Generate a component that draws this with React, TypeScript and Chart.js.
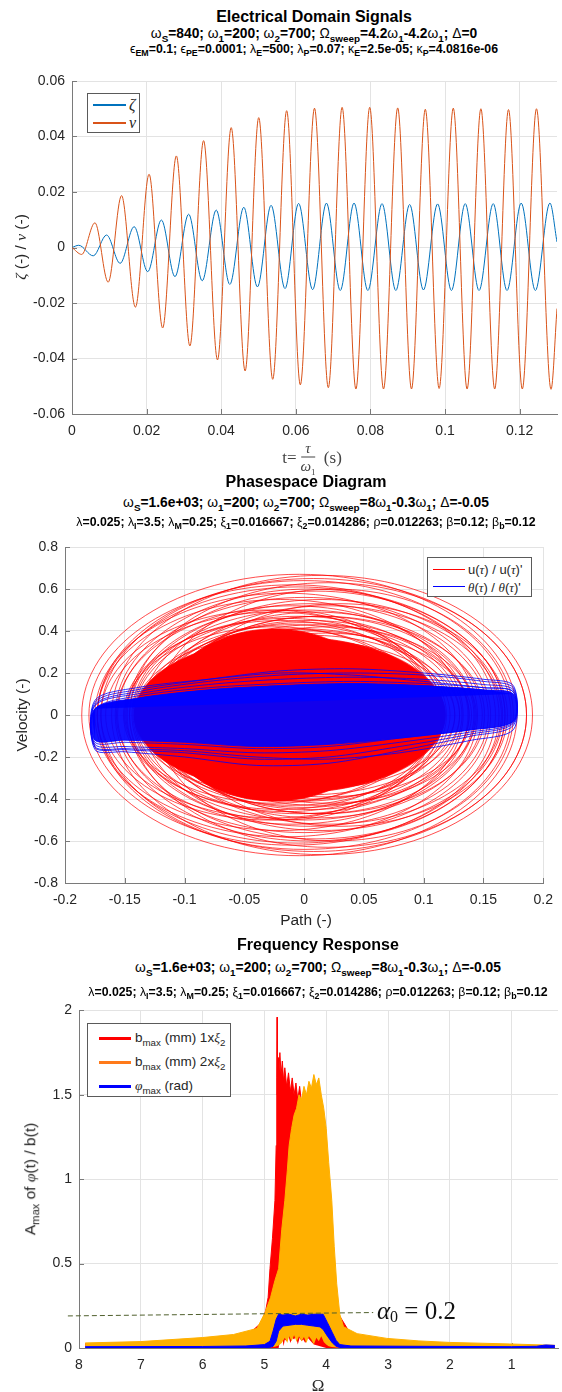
import React, { useEffect, useRef } from "react";
import { Chart, registerables } from "chart.js";

Chart.register(...registerables);

const SANS = '"Liberation Sans", Arial, Helvetica, sans-serif';
const SERIF = '"Liberation Serif", "Times New Roman", serif';
const TXT = "#262626";
const GRID = "#e3e3e3";
const AXIS = "#7a7a7a";

// ---------------- Plot 1: Electrical Domain Signals ----------------
const NU_T = [0, 0.0026, 0.00615, 0.0097, 0.01328, 0.017, 0.02066, 0.0243, 0.02797, 0.0316, 0.03527, 0.039, 0.04267, 0.0464, 0.05005, 0.0538, 0.05754, 0.0612, 0.065, 0.0687, 0.0724, 0.0761, 0.0798, 0.0835, 0.0873, 0.091, 0.0947, 0.0984, 0.1022, 0.1059, 0.1096, 0.1133, 0.117, 0.1207, 0.1245, 0.1284, 0.13];
const NU_V = [0, -0.0025, 0.0089, -0.0125, 0.0187, -0.0215, 0.0264, -0.029, 0.033, -0.0355, 0.0385, -0.0405, 0.0432, -0.0445, 0.0468, -0.0475, 0.0493, -0.0495, 0.0502, -0.0505, 0.0505, -0.051, 0.0505, -0.051, 0.0503, -0.051, 0.0498, -0.0508, 0.0502, -0.051, 0.05, -0.051, 0.0497, -0.051, 0.05, -0.0511, -0.022];
const ZETA_T = [0, 0.0018, 0.0057, 0.00927, 0.0129, 0.01666, 0.0203, 0.02396, 0.0276, 0.03127, 0.0349, 0.03866, 0.0423, 0.04605, 0.0497, 0.05336, 0.0571, 0.06074, 0.0645, 0.0682, 0.0719, 0.0756, 0.0793, 0.0831, 0.0868, 0.0905, 0.0942, 0.098, 0.1017, 0.1054, 0.1091, 0.1129, 0.1166, 0.1204, 0.1242, 0.1281, 0.13];
const ZETA_V = [0, 0.0008, -0.003, 0.0045, -0.0057, 0.0075, -0.0087, 0.0099, -0.0105, 0.012, -0.012, 0.0135, -0.0133, 0.0145, -0.0142, 0.0152, -0.0148, 0.0159, -0.0152, 0.016, -0.0155, 0.016, -0.0155, 0.0158, -0.0155, 0.0155, -0.0153, 0.0157, -0.0155, 0.0158, -0.0155, 0.0158, -0.0155, 0.016, -0.0155, 0.016, 0.002];
const P1_XTICKS = [0, 0.02, 0.04, 0.06, 0.08, 0.1, 0.12];
const P1_YTICKS = [-0.06, -0.04, -0.02, 0, 0.02, 0.04, 0.06];

// ---------------- Plot 2: Phasespace Diagram ----------------
// red orbits: centre, half-width (path), half-height (velocity)
const RED_CX = [-0.004, 0.015, 0.0, -0.01, 0.02, 0.005, -0.015, 0.01, 0.0, -0.02, 0.015, 0.005, -0.01, 0.02, 0.0, -0.025, 0.01, -0.005, 0.015, -0.015, 0.005, -0.02, 0.0, 0.01, -0.01, -0.025, 0.02, 0.0, -0.015, 0.008, 0.012, -0.018, 0.004, -0.008, 0.018, -0.022, 0.0, 0.01, -0.012, 0.025, -0.03, 0.03, -0.005, 0.008];
const RED_A = [0.182, 0.176, 0.173, 0.17, 0.166, 0.163, 0.16, 0.158, 0.156, 0.153, 0.151, 0.149, 0.147, 0.145, 0.143, 0.141, 0.139, 0.137, 0.136, 0.134, 0.133, 0.131, 0.13, 0.128, 0.127, 0.125, 0.124, 0.122, 0.12, 0.118, 0.13, 0.128, 0.126, 0.124, 0.122, 0.12, 0.118, 0.116, 0.114, 0.15, 0.14, 0.14, 0.168, 0.178];
const RED_B = [0.67, 0.665, 0.64, 0.62, 0.63, 0.6, 0.58, 0.59, 0.56, 0.55, 0.55, 0.53, 0.52, 0.52, 0.5, 0.49, 0.49, 0.47, 0.47, 0.46, 0.45, 0.45, 0.44, 0.43, 0.43, 0.42, 0.42, 0.41, 0.41, 0.4, 0.47, 0.5, 0.38, 0.37, 0.39, 0.38, 0.36, 0.35, 0.36, 0.6, 0.5, 0.53, 0.61, 0.65];
const RED_CORE_CX = [-0.012, -0.025];
const RED_CORE_A = [0.13, 0.095];
const RED_CORE_B = [0.37, 0.41];
// blue orbits: shared path positions, one velocity list per orbit
const BLUE_X = [-0.175, -0.175, -0.14, -0.08, -0.02, 0.04, 0.1, 0.15, 0.175, 0.175, 0.14, 0.08, 0.02, -0.04, -0.1, -0.15];
const BLUE_LOOPS = [
  [-0.165, 0.06, 0.12, 0.17, 0.21, 0.22, 0.2, 0.17, 0.14, -0.05, -0.1, -0.17, -0.23, -0.24, -0.2, -0.175],
  [-0.155, 0.05, 0.11, 0.16, 0.19, 0.2, 0.19, 0.16, 0.13, -0.04, -0.09, -0.15, -0.2, -0.21, -0.18, -0.165],
  [-0.15, 0.07, 0.13, 0.17, 0.2, 0.19, 0.16, 0.13, 0.11, -0.07, -0.12, -0.18, -0.21, -0.2, -0.17, -0.16],
  [-0.14, 0.045, 0.1, 0.145, 0.17, 0.18, 0.17, 0.145, 0.12, -0.035, -0.08, -0.13, -0.17, -0.18, -0.16, -0.15],
  [-0.13, 0.03, 0.09, 0.13, 0.15, 0.16, 0.15, 0.13, 0.11, -0.03, -0.07, -0.11, -0.15, -0.16, -0.14, -0.13],
];
const BLUE_CORE = [-0.12, 0.03, 0.08, 0.12, 0.14, 0.15, 0.14, 0.12, 0.1, -0.03, -0.07, -0.11, -0.14, -0.15, -0.13, -0.12];
const P2_XTICKS = [-0.2, -0.15, -0.1, -0.05, 0, 0.05, 0.1, 0.15, 0.2];
const P2_YTICKS = [-0.8, -0.6, -0.4, -0.2, 0, 0.2, 0.4, 0.6, 0.8];

// ---------------- Plot 3: Frequency Response ----------------
const RED_OMEGA = [7.9, 7.0, 6.0, 5.5, 5.2, 5.05, 4.98, 4.94, 4.91, 4.87, 4.83, 4.81, 4.8, 4.795, 4.79, 4.78, 4.77, 4.75, 4.73, 4.71, 4.69, 4.67, 4.64, 4.61, 4.58, 4.55, 4.52, 4.49, 4.46, 4.43, 4.4, 4.37, 4.34, 4.3, 4.25, 4.2, 4.1, 4.0, 3.9, 3.8, 3.6, 3.0, 2.0, 1.0, 0.3];
const RED_UP = [0.025, 0.032, 0.05, 0.07, 0.1, 0.15, 0.22, 0.3, 0.47, 0.65, 0.874, 1.2, 1.6, 1.96, 1.5, 1.72, 1.6, 1.75, 1.62, 1.7, 1.58, 1.66, 1.55, 1.63, 1.52, 1.6, 1.5, 1.57, 1.47, 1.55, 1.45, 1.5, 1.42, 1.45, 1.35, 1.3, 1.1, 0.8, 0.5, 0.2, 0.08, 0.045, 0.025, 0.015, 0.01];
const RED_LO = [0, 0, 0, 0, 0, 0, 0, 0, 0, 0, 0, 0, 0, 0, 0, 0, 0, 0.04, 0.03, 0.06, 0.01, 0.05, 0.04, 0.07, 0.03, 0.06, 0.05, 0.07, 0.02, 0.06, 0.04, 0.05, 0.03, 0.06, 0.04, 0.02, 0.01, 0, 0, 0, 0, 0, 0, 0, 0];
const ORANGE_OMEGA = [7.9, 7.0, 6.0, 5.5, 5.12, 4.99, 4.9, 4.83, 4.77, 4.72, 4.67, 4.63, 4.6, 4.56, 4.52, 4.48, 4.44, 4.4, 4.36, 4.32, 4.28, 4.24, 4.2, 4.16, 4.12, 4.08, 4.04, 4.0, 3.96, 3.91, 3.87, 3.83, 3.78, 3.72, 3.5, 3.02, 2.5, 2.0, 1.03, 0.5, 0.3];
const ORANGE_UP = [0.03, 0.038, 0.062, 0.08, 0.116, 0.21, 0.3, 0.4, 0.47, 0.7, 0.874, 1.05, 1.2, 1.3, 1.38, 1.42, 1.5, 1.47, 1.55, 1.5, 1.58, 1.54, 1.62, 1.56, 1.6, 1.5, 1.42, 1.3, 1.1, 0.874, 0.6, 0.38, 0.2, 0.126, 0.085, 0.057, 0.042, 0.033, 0.024, 0.018, 0.016];
const ORANGE_LO = [0.003, 0.003, 0.003, 0.003, 0.003, 0.004, 0.005, 0.008, 0.015, 0.03, 0.06, 0.03, 0.07, 0.04, 0.075, 0.035, 0.07, 0.04, 0.065, 0.03, 0.07, 0.05, 0.02, 0.06, 0.04, 0.07, 0.035, 0.02, 0.01, 0.006, 0.004, 0.003, 0.003, 0.003, 0.003, 0.003, 0.003, 0.003, 0.003, 0.003, 0.003];
const BLUE_OMEGA = [7.9, 6.0, 5.3, 5.0, 4.91, 4.86, 4.81, 4.77, 4.7, 4.6, 4.5, 4.4, 4.3, 4.2, 4.1, 4.05, 3.98, 3.9, 3.84, 3.78, 3.6, 2.5, 1.0, 0.6, 0.45, 0.3];
const BLUE_UP = [0.008, 0.009, 0.012, 0.02, 0.04, 0.1, 0.17, 0.2, 0.195, 0.2, 0.19, 0.2, 0.195, 0.2, 0.2, 0.2, 0.15, 0.09, 0.045, 0.02, 0.012, 0.01, 0.008, 0.01, 0.018, 0.015];
const BLUE_LO = [0, 0, 0, 0.002, 0.004, 0.01, 0.04, 0.1, 0.13, 0.135, 0.14, 0.14, 0.135, 0.13, 0.125, 0.11, 0.07, 0.03, 0.01, 0.003, 0, 0, 0, 0, 0, 0];
const ALPHA_LINE_OMEGA = [8.18, 3.24];
const ALPHA_LINE_VALUE = [0.19, 0.21];
const ALPHA_TEXT_AT = [3.18, 0.224];
const P3_XTICKS = [8, 7, 6, 5, 4, 3, 2, 1];
const P3_YTICKS = [0, 0.5, 1, 1.5, 2];

// ---------------- layout ----------------
const C1_TOP = 60, C2_TOP = 530, C3_TOP = 995, C_H = 385, W = 562;

const pts = (xs: number[], ys: number[]) => xs.map((x, i) => ({ x, y: ys[i] }));

function ellipsePts(cx: number, a: number, b: number) {
  return [
    { x: cx - a, y: 0 }, { x: cx, y: -b }, { x: cx + a, y: 0 }, { x: cx, y: b },
    { x: cx - a, y: 0 }, { x: cx, y: -b }, { x: cx + a, y: 0 },
  ];
}
function loopPts(xs: number[], ys: number[]) {
  const n = xs.length;
  const out: { x: number; y: number }[] = [];
  for (let k = 0; k < n + 9; k++) out.push({ x: xs[k % n], y: ys[k % n] });
  return out;
}
function visibleSegments(from: number, to: number) {
  return {
    borderColor: (ctx: any) => (ctx.p0DataIndex >= from && ctx.p0DataIndex <= to ? undefined : "rgba(0,0,0,0)"),
  };
}

// short tick marks drawn inward from the axis lines, at the scale's own ticks
const insideTicks = {
  id: "insideTicks",
  beforeDatasetsDraw(chart: any) {
    const { ctx, chartArea: a, scales } = chart;
    const x = scales.x, y = scales.y;
    ctx.save();
    ctx.strokeStyle = AXIS;
    ctx.lineWidth = 1;
    ctx.beginPath();
    for (const t of x.ticks) {
      const px = Math.round(x.getPixelForValue(t.value)) + 0.5;
      ctx.moveTo(px, a.bottom);
      ctx.lineTo(px, a.bottom - 5);
    }
    for (const t of y.ticks) {
      const py = Math.round(y.getPixelForValue(t.value)) + 0.5;
      ctx.moveTo(a.left, py);
      ctx.lineTo(a.left + 5, py);
    }
    ctx.stroke();
    ctx.restore();
  },
};

function axis(min: number, max: number, ticks: number[], isX: boolean, size: number, reverse = false) {
  return {
    type: "linear",
    min,
    max,
    reverse,
    afterBuildTicks: (s: any) => {
      s.ticks = ticks.map((v) => ({ value: v }));
    },
    afterFit: (s: any) => {
      if (isX) s.height = size;
      else s.width = size;
    },
    grid: { color: GRID, lineWidth: 1, drawTicks: false },
    border: { color: AXIS, width: 1 },
    ticks: {
      color: TXT,
      font: { family: SANS, size: 14 },
      padding: isX ? 9 : 7,
      autoSkip: false,
      maxRotation: 0,
      callback: (v: any) => String(v),
    },
  };
}

function baseOptions(padding: any, scales: any) {
  return {
    animation: false,
    responsive: false,
    maintainAspectRatio: false,
    devicePixelRatio: 1,
    events: [],
    layout: { padding },
    plugins: { legend: { display: false }, tooltip: { enabled: false }, title: { display: false } },
    elements: { point: { radius: 0 } },
    scales,
  };
}

function config1(): any {
  return {
    type: "line",
    data: {
      datasets: [
        { data: pts(ZETA_T, ZETA_V), borderColor: "#0072BD", borderWidth: 1, cubicInterpolationMode: "monotone", pointRadius: 0, order: 1 },
        { data: pts(NU_T, NU_V), borderColor: "#D95319", borderWidth: 1, cubicInterpolationMode: "monotone", pointRadius: 0, order: 0 },
      ],
    },
    options: baseOptions(
      { left: 0, right: 5, top: 21, bottom: 5 },
      { x: axis(0, 0.13, P1_XTICKS, true, 26), y: axis(-0.06, 0.06, P1_YTICKS, false, 72) }
    ),
    plugins: [insideTicks],
  };
}

function config2(): any {
  const ds: any[] = [];
  for (let i = 0; i < RED_CORE_CX.length; i++) {
    ds.push({
      data: ellipsePts(RED_CORE_CX[i], RED_CORE_A[i], RED_CORE_B[i]),
      borderColor: "#FF0000", backgroundColor: "#FF0000", borderWidth: 0.7, tension: 0.5523,
      fill: "shape", pointRadius: 0, order: 2, segment: visibleSegments(1, 4),
    });
  }
  for (let i = 0; i < RED_CX.length; i++) {
    ds.push({
      data: ellipsePts(RED_CX[i], RED_A[i], RED_B[i]),
      borderColor: "#FF0000", borderWidth: 0.7, tension: 0.5523, fill: false,
      pointRadius: 0, order: 1, segment: visibleSegments(1, 4),
    });
  }
  const n = BLUE_X.length;
  ds.push({
    data: loopPts(BLUE_X, BLUE_CORE),
    borderColor: "#0000FF", backgroundColor: "rgba(0,0,255,0.93)", borderWidth: 0.8, tension: 0.3,
    fill: "shape", pointRadius: 0, order: 0, segment: visibleSegments(1, n),
  });
  for (const ys of BLUE_LOOPS) {
    ds.push({
      data: loopPts(BLUE_X, ys),
      borderColor: "#0000FF", borderWidth: 0.8, tension: 0.3, fill: false,
      pointRadius: 0, order: 0, segment: visibleSegments(1, n),
    });
  }
  return {
    type: "line",
    data: { datasets: ds },
    options: baseOptions(
      { left: 0, right: 15, top: 17, bottom: 5 },
      { x: axis(-0.2, 0.2, P2_XTICKS, true, 27), y: axis(-0.8, 0.8, P2_YTICKS, false, 65) }
    ),
    plugins: [insideTicks],
  };
}

function config3(): any {
  return {
    type: "line",
    data: {
      datasets: [
        { data: pts(ALPHA_LINE_OMEGA, ALPHA_LINE_VALUE), borderColor: "#4f5f2c", borderWidth: 1, borderDash: [5, 3], pointRadius: 0, clip: false, order: -1 },
        { data: pts(BLUE_OMEGA, BLUE_UP), borderColor: "#0000FF", backgroundColor: "#0000FF", borderWidth: 1, fill: "+1", pointRadius: 0, order: 0 },
        { data: pts(BLUE_OMEGA, BLUE_LO), borderColor: "#0000FF", borderWidth: 1, pointRadius: 0, order: 0 },
        { data: pts(ORANGE_OMEGA, ORANGE_UP), borderColor: "#FFB000", backgroundColor: "#FFB000", borderWidth: 1, fill: "+1", pointRadius: 0, order: 1 },
        { data: pts(ORANGE_OMEGA, ORANGE_LO), borderColor: "#FFB000", borderWidth: 0, pointRadius: 0, order: 1 },
        { data: pts(RED_OMEGA, RED_UP), borderColor: "#FF0000", backgroundColor: "#FF0000", borderWidth: 1, fill: "+1", pointRadius: 0, order: 2 },
        { data: pts(RED_OMEGA, RED_LO), borderColor: "#FF0000", borderWidth: 0, pointRadius: 0, order: 2 },
      ],
    },
    options: baseOptions(
      { left: 0, right: 4, top: 15, bottom: 5 },
      { x: axis(0.25, 8, P3_XTICKS, true, 27, true), y: axis(0, 2, P3_YTICKS, false, 79) }
    ),
    plugins: [insideTicks],
  };
}

// ---------------- small text helpers ----------------
const Sub = ({ children }: any) => (
  <sub style={{ fontSize: "0.72em", verticalAlign: "-0.4em", lineHeight: 0 }}>{children}</sub>
);
const G = ({ children }: any) => <span style={{ fontWeight: "normal" }}>{children}</span>;
const I = ({ children }: any) => <span style={{ fontStyle: "italic", fontFamily: SERIF }}>{children}</span>;

const centered = (x: number, y: number, extra: any = {}): any => ({
  position: "absolute",
  left: x,
  top: y,
  transform: "translate(-50%, -50%)",
  whiteSpace: "nowrap",
  lineHeight: 1,
  ...extra,
});
const titleStyle = (x: number, y: number) => centered(x, y, { fontSize: 16, fontWeight: "bold", color: "#000" });
const line1Style = (x: number, y: number) => centered(x, y, { fontSize: 13.8, fontWeight: "bold", color: "#000" });
const line2Style = (x: number, y: number) => centered(x, y, { fontSize: 12.3, fontWeight: "bold", color: "#000" });
const ylabStyle = (x: number, y: number) =>
  centered(x, y, { fontSize: 15.5, color: TXT, transform: "translate(-50%, -50%) rotate(-90deg)" });

const Params2 = () => (
  <>
    <G>λ</G>=0.025; <G>λ</G><Sub>I</Sub>=3.5; <G>λ</G><Sub>M</Sub>=0.25; <G>ξ</G><Sub>1</Sub>=0.016667; <G>ξ</G>
    <Sub>2</Sub>=0.014286; <G>ρ</G>=0.012263; <G>β</G>=0.12; <G>β</G><Sub>b</Sub>=0.12
  </>
);
const Params1 = () => (
  <>
    <G>ω</G><Sub>S</Sub>=1.6e+03; <G>ω</G><Sub>1</Sub>=200; <G>ω</G><Sub>2</Sub>=700; <G>Ω</G><Sub>sweep</Sub>=8<G>ω</G>
    <Sub>1</Sub>-0.3<G>ω</G><Sub>1</Sub>; <G>Δ</G>=-0.05
  </>
);

const legendBox = (left: number, top: number, w: number, h: number): any => ({
  position: "absolute",
  left,
  top,
  width: w,
  height: h,
  boxSizing: "border-box",
  border: "1px solid #5a5a5a",
  background: "#fff",
});
const legLine = (left: number, top: number, w: number, color: string, t: number): any => ({
  position: "absolute",
  left,
  top: top - t / 2,
  width: w,
  height: t,
  background: color,
});
const legText = (left: number, top: number, size: number, extra: any = {}): any => ({
  position: "absolute",
  left,
  top,
  transform: "translateY(-50%)",
  whiteSpace: "nowrap",
  fontSize: size,
  lineHeight: 1,
  color: TXT,
  ...extra,
});

export default function App() {
  const r1 = useRef<HTMLCanvasElement>(null);
  const r2 = useRef<HTMLCanvasElement>(null);
  const r3 = useRef<HTMLCanvasElement>(null);
  const alphaRef = useRef<HTMLDivElement>(null);

  useEffect(() => {
    const c1 = new Chart(r1.current as any, config1());
    const c2 = new Chart(r2.current as any, config2());
    const c3 = new Chart(r3.current as any, config3());
    const ax = c3.scales.x.getPixelForValue(ALPHA_TEXT_AT[0]);
    const ay = c3.scales.y.getPixelForValue(ALPHA_TEXT_AT[1]);
    if (alphaRef.current) {
      alphaRef.current.style.left = ax + "px";
      alphaRef.current.style.top = C3_TOP + ay + "px";
    }
    return () => {
      c1.destroy();
      c2.destroy();
      c3.destroy();
    };
  }, []);

  const canvasStyle = (top: number): any => ({ position: "absolute", left: 0, top, width: W, height: C_H });

  return (
    <div style={{ position: "absolute", left: 0, top: 0, width: W, height: 1392, background: "#fff", fontFamily: SANS, overflow: "hidden" }}>
      <canvas ref={r1} width={W} height={C_H} style={canvasStyle(C1_TOP)} />
      <canvas ref={r2} width={W} height={C_H} style={canvasStyle(C2_TOP)} />
      <canvas ref={r3} width={W} height={C_H} style={canvasStyle(C3_TOP)} />

      {/* ---- Plot 1 texts ---- */}
      <div style={titleStyle(314, 17)}>Electrical Domain Signals</div>
      <div style={line1Style(314, 33.5)}>
        <G>ω</G><Sub>S</Sub>=840; <G>ω</G><Sub>1</Sub>=200; <G>ω</G><Sub>2</Sub>=700; <G>Ω</G><Sub>sweep</Sub>=4.2<G>ω</G>
        <Sub>1</Sub>-4.2<G>ω</G><Sub>1</Sub>; <G>Δ</G>=0
      </div>
      <div style={line2Style(314, 48.5)}>
        <G>ϵ</G><Sub>EM</Sub>=0.1; <G>ϵ</G><Sub>PE</Sub>=0.0001; <G>λ</G><Sub>E</Sub>=500; <G>λ</G><Sub>P</Sub>=0.07; <G>κ</G>
        <Sub>E</Sub>=2.5e-05; <G>κ</G><Sub>P</Sub>=4.0816e-06
      </div>
      <div style={ylabStyle(21, 247)}>
        <I>ζ</I> (-) / <I>ν</I> (-)
      </div>
      <div style={centered(312, 457, { fontFamily: SERIF, fontSize: 17, color: "#444", display: "flex", alignItems: "center" })}>
        <span>t=</span>
        <span style={{ display: "inline-flex", flexDirection: "column", alignItems: "center", margin: "0 4px", fontStyle: "italic" }}>
          <span style={{ borderBottom: "1px solid #444", padding: "0 4px 1px", fontSize: 15, lineHeight: 1 }}>τ</span>
          <span style={{ fontSize: 15, paddingTop: 1, lineHeight: 1 }}>
            ω<sub style={{ fontSize: 9, fontStyle: "normal", lineHeight: 0 }}>1</sub>
          </span>
        </span>
        <span>&nbsp;(s)</span>
      </div>
      <div style={legendBox(87, 93, 53, 40)}>
        <div style={legLine(5, 11, 33, "#0072BD", 1.2)} />
        <div style={legText(41, 11, 16, { fontFamily: SERIF, fontStyle: "italic" })}>ζ</div>
        <div style={legLine(5, 29, 33, "#D95319", 1.2)} />
        <div style={legText(41, 29, 16, { fontFamily: SERIF, fontStyle: "italic" })}>ν</div>
      </div>

      {/* ---- Plot 2 texts ---- */}
      <div style={titleStyle(306, 482)}>Phasespace Diagram</div>
      <div style={line1Style(306, 502.5)}>
        <Params1 />
      </div>
      <div style={line2Style(306, 521.5)}>
        <Params2 />
      </div>
      <div style={ylabStyle(22, 715)}>Velocity (-)</div>
      <div style={centered(306, 920, { fontSize: 15.5, color: TXT })}>Path (-)</div>
      <div style={legendBox(427, 557, 105, 40)}>
        <div style={legLine(5, 11, 32, "#FF0000", 1)} />
        <div style={legText(40, 11, 13)}>
          u(<I>τ</I>) / u(<I>τ</I>)'
        </div>
        <div style={legLine(5, 28.5, 32, "#0000FF", 1)} />
        <div style={legText(40, 28.5, 13)}>
          <I>θ</I>(<I>τ</I>) / <I>θ</I>(<I>τ</I>)'
        </div>
      </div>

      {/* ---- Plot 3 texts ---- */}
      <div style={titleStyle(318, 945)}>Frequency Response</div>
      <div style={line1Style(318, 968)}>
        <Params1 />
      </div>
      <div style={line2Style(318, 992)}>
        <Params2 />
      </div>
      <div style={ylabStyle(30, 1179)}>
        A<Sub>max</Sub> of <I>φ</I>(t) / b(t)
      </div>
      <div style={centered(318, 1385, { fontFamily: SERIF, fontSize: 17, color: TXT })}>Ω</div>
      <div style={legendBox(87, 1023, 144, 74)}>
        <div style={legLine(11, 14, 32, "#FF0000", 3)} />
        <div style={legText(47, 14, 13.5)}>
          b<Sub>max</Sub> (mm) 1x<I>ξ</I>
          <Sub>2</Sub>
        </div>
        <div style={legLine(11, 38, 32, "#FF7A1A", 3)} />
        <div style={legText(47, 38, 13.5)}>
          b<Sub>max</Sub> (mm) 2x<I>ξ</I>
          <Sub>2</Sub>
        </div>
        <div style={legLine(11, 62, 32, "#0000FF", 3)} />
        <div style={legText(47, 62, 13.5)}>
          <I>φ</I>
          <Sub>max</Sub> (rad)
        </div>
      </div>
      <div
        ref={alphaRef}
        style={{ position: "absolute", left: 377, top: 1310, transform: "translateY(-50%)", whiteSpace: "nowrap", fontFamily: SERIF, fontSize: 25, lineHeight: 1, color: "#111" }}
      >
        <i>α</i>
        <sub style={{ fontSize: 16, verticalAlign: "-0.2em", lineHeight: 0 }}>0</sub> = 0.2
      </div>
    </div>
  );
}
